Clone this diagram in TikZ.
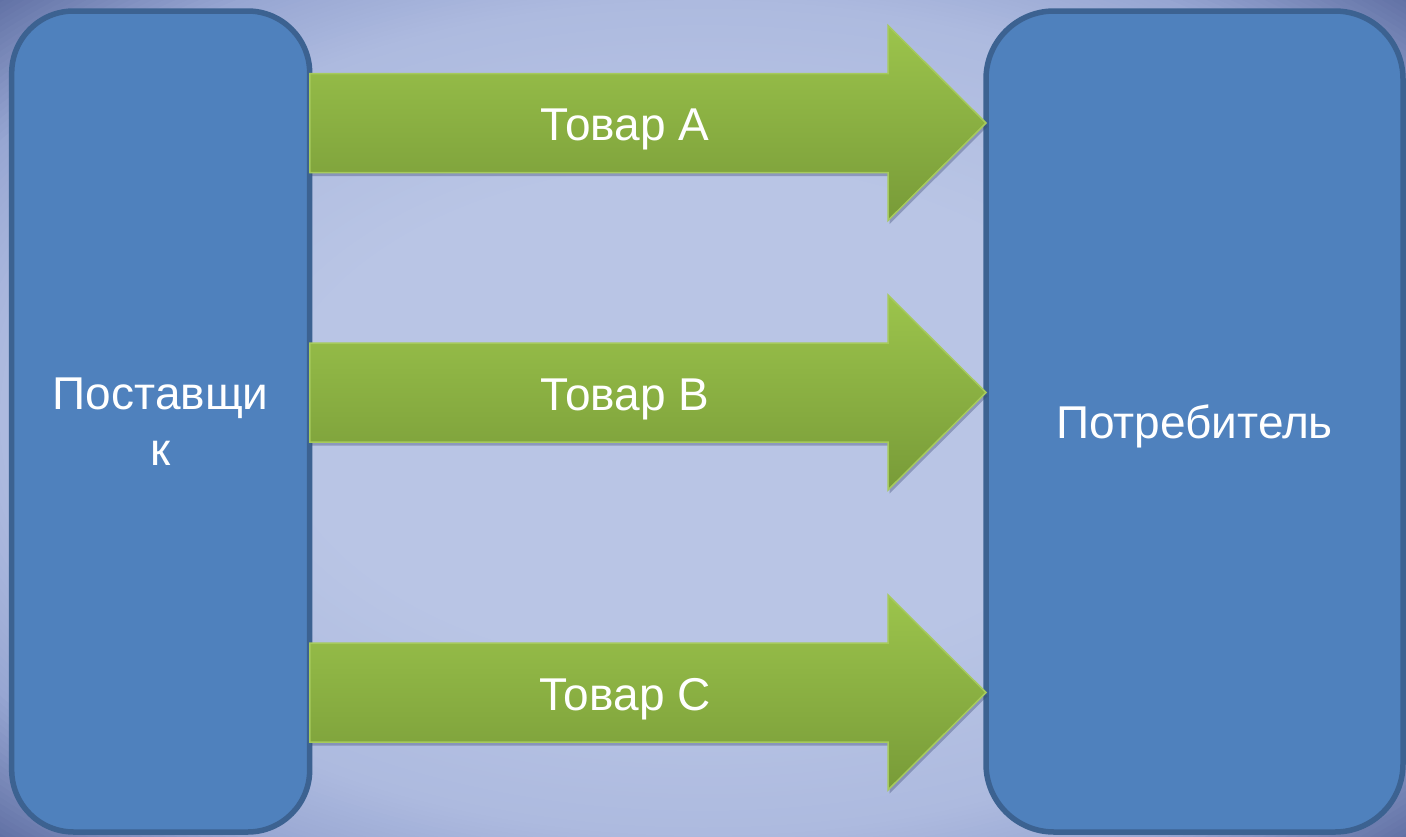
\documentclass[tikz,border=0pt]{standalone}
\usepackage{fontspec}
\setmainfont{Liberation Sans}
\usetikzlibrary{calc,shadows}

\definecolor{bgmid}{HTML}{B9C5E5}
\definecolor{bgedge}{HTML}{ADBADF}
\definecolor{bgouter}{HTML}{97A6D2}
\definecolor{bgcorner}{HTML}{5A6A9F}
\definecolor{boxfill}{HTML}{4F81BD}
\definecolor{boxedge}{HTML}{3C6291}
\definecolor{arrtop}{HTML}{9CC44C}
\definecolor{arrbot}{HTML}{789B38}
\definecolor{arredge}{HTML}{A6CA5C}
\definecolor{shadowcol}{HTML}{3A4670}

\tikzset{
  party/.style={draw=boxedge, fill=boxfill, line width=5.5pt,
    rounded corners=62pt, text=white, align=center, inner sep=0pt,
    font=\fontsize{46}{56}\selectfont},
  goodsarrowstyle/.style={top color=arrtop, bottom color=arrbot,
    draw=arredge, line width=1.5pt, line join=miter,
    drop shadow={shadow xshift=1.5pt, shadow yshift=-3.5pt,
      opacity=0.35, fill=shadowcol}},
  goodslabel/.style={text=white, anchor=base, inner sep=0pt,
    font=\fontsize{46}{56}\selectfont},
}

% one block arrow from the supplier to the consumer at height #2
\newcommand\goodsarrow[4]{%
  \coordinate (#1y) at (0,#2);
  \coordinate (#1s) at (supr |- #1y);
  \coordinate (#1t) at (conl |- #1y);
  \path[goodsarrowstyle] ($(#1s)+(0,-49.5)$) -- ($(#1t)+(-98,-49.5)$)
    -- ($(#1t)+(-98,-97.5)$) -- (#1t) -- ($(#1t)+(-98,97.5)$)
    -- ($(#1t)+(-98,49.5)$) -- ($(#1s)+(0,49.5)$) -- cycle;
  \node[goodslabel] (#1l) at ($(#1y)+(#3,17.5)$) {#4};
}

\begin{document}
\begin{tikzpicture}[x=1pt,y=-1pt]
  \useasboundingbox (0,0) rectangle (1406,836);
  % background: nested ellipses, light in the centre, dark in the corners
  \begin{scope}
    \clip (0,0) rectangle (1406,836);
    \foreach \i in {0,...,85}{
      \pgfmathsetmacro\d{1.45-0.01*\i}
      \ifdim\d pt>1.2pt
        \pgfmathsetmacro\p{100*(\d-1.2)/0.25}%
        \colorlet{ringcol}{bgcorner!\p!bgouter}%
      \else\ifdim\d pt>1.0pt
        \pgfmathsetmacro\p{100*(\d-1.0)/0.2}%
        \colorlet{ringcol}{bgouter!\p!bgedge}%
      \else
        \pgfmathsetmacro\p{max(0,100*(\d-0.6)/0.4)}%
        \colorlet{ringcol}{bgedge!\p!bgmid}%
      \fi\fi
      \fill[ringcol] (703,418) ellipse [x radius=703*\d, y radius=418*\d];
    }
  \end{scope}

  \node[party, minimum width=298pt, minimum height=821pt] (sup)
    at (160.7,421.5) {Поставщи\\к};
  \node[party, minimum width=417pt, minimum height=821pt, text depth=0pt,
    rounded corners=68pt] (con) at (1194.5,421.5) {Потребитель};

  \coordinate (supr) at ([xshift=-2.5pt]sup.east);
  \coordinate (conl) at ([xshift=2.75pt]con.west);

  \goodsarrow{A}{123}{625}{Товар A}
  \goodsarrow{B}{392.5}{625}{Товар B}
  \goodsarrow{C}{692.5}{625}{Товар C}
\end{tikzpicture}
\end{document}
